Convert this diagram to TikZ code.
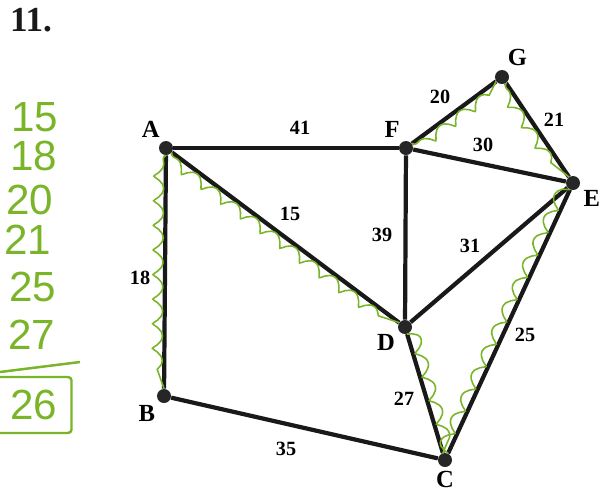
\documentclass[tikz,border=0pt]{standalone}
\usepackage{fontspec}
\setmainfont{Liberation Serif}
\newfontfamily\handfont{Liberation Sans}
\usetikzlibrary{positioning, decorations.pathmorphing}
\definecolor{pen}{RGB}{122,180,40}

\begin{document}
\begin{tikzpicture}[
    x=0.02cm, y=-0.02cm,
    vertex/.style={circle, fill=black!85, minimum size=0.28cm, inner sep=0pt, label distance=0mm},
    every label/.style={font=\fontsize{14}{14}\selectfont\bfseries, inner sep=2pt},
    edge/.style={line width=2.4pt, black!90},
    wt/.style={font=\fontsize{11.5}{11.5}\selectfont\bfseries, inner sep=1pt},
    tree/.style={pen, line width=0.9pt, decorate, decoration={coil, aspect=0.5, segment length=14pt, amplitude=2.8pt, raise=#1}},
    tree/.default=-4pt,
    hand/.style={pen, font=\handfont\fontsize{24}{24}\selectfont, inner sep=0pt}
]
\useasboundingbox (0,0) rectangle (605,495);

% exercise number
\node[font=\bfseries\fontsize{20}{20}\selectfont, black!90] (title) at (31,20) {11.};

% vertices
\node[vertex, label={110:A}] (vA) at (166,148) {};
\node[vertex, label={110:F}] (vF) at (406,148) {};
\node[vertex, label={74:G}] (vG) at (502,77) {};
\node[vertex, label={-25:E}] (vE) at (573,183) {};
\node[vertex, label={212:D}] (vD) at (405,327) {};
\node[vertex, label={225:B}] (vB) at (164,396) {};
\node[vertex, label={270:C}] (vC) at (445,460) {};

% edges
\draw[edge] (vA) -- (vF);
\draw[edge] (vA) -- (vD);
\draw[edge] (vA) -- (vB);
\draw[edge] (vF) -- (vG);
\draw[edge] (vF) -- (vE);
\draw[edge] (vF) -- (vD);
\draw[edge] (vG) -- (vE);
\draw[edge] (vD) -- (vE);
\draw[edge] (vD) -- (vC);
\draw[edge] (vB) -- (vC);
\draw[edge] (vC) -- (vE);

% weights
\node[wt] (w41) at (300,128) {41};
\node[wt] (w20) at (440,97) {20};
\node[wt] (w21) at (554,120) {21};
\node[wt] (w30) at (483,145) {30};
\node[wt] (w15) at (290,214) {15};
\node[wt] (w39) at (382,235) {39};
\node[wt] (w31) at (470,246) {31};
\node[wt] (w18) at (140,278) {18};
\node[wt] (w25) at (525,335) {25};
\node[wt] (w27) at (404,399) {27};
\node[wt] (w35) at (286,449) {35};

% spanning tree marks
\draw[tree] (vA) -- (vB);
\draw[tree] (vA) -- (vD);
\draw[tree] (vF) -- (vG);
\draw[tree] (vG) -- (vE);
\draw[tree=4pt] (vD) -- (vC);
\draw[tree=4pt] (vC) -- (vE);

% sum on the left
\node[hand] (n15) at (35,117) {15};
\node[hand] (n18) at (34,156) {18};
\node[hand] (n20) at (30,200) {20};
\node[hand] (n21) at (28,240) {21};
\node[hand] (n25) at (33,287) {25};
\node[hand] (n27) at (32,335) {27};
\coordinate (rule0) at (0,372);
\coordinate (rule1) at (80,362);
\draw[pen, line width=1.4pt] (rule0) -- (rule1);
\node[hand, draw, line width=1.4pt, rounded corners=2pt, minimum width=1.5cm, minimum height=1.12cm] (total) at (34,405) {26};
\end{tikzpicture}
\end{document}
